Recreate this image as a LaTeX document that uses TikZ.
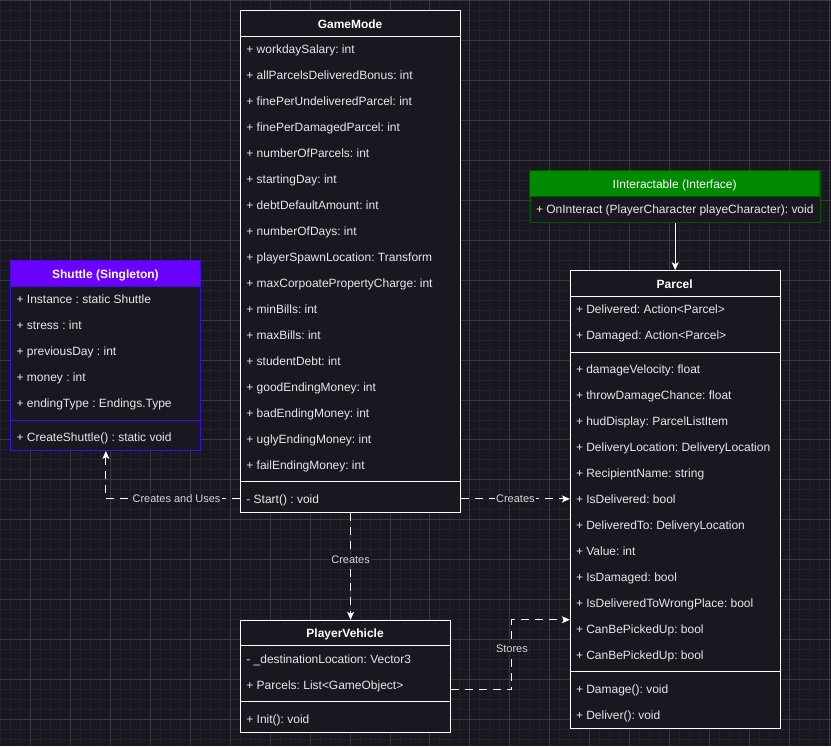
\documentclass[tikz,border=0pt]{standalone}
\usepackage{fontspec}
\setmainfont{Liberation Sans}
\usetikzlibrary{arrows.meta}
\frenchspacing

\definecolor{canvasBg}{RGB}{25,23,32}
\definecolor{gridMinor}{RGB}{35,33,43}
\definecolor{gridMajor}{RGB}{58,57,64}
\definecolor{rowText}{RGB}{232,232,232}
\definecolor{labelText}{RGB}{215,215,215}
\definecolor{shuttleHead}{HTML}{6A00FF}
\definecolor{shuttleEdge}{HTML}{3D10E0}
\definecolor{ifaceHead}{HTML}{008A00}
\definecolor{ifaceEdge}{HTML}{005700}

\begin{document}
\begin{tikzpicture}
[x=1pt,y=-1pt,
  classDecorate/.style={draw=white,fill=canvasBg,line width=1pt,anchor=north west,inner sep=0pt},
  headDecorate/.style={anchor=base,font=\bfseries\fontsize{12}{14}\selectfont,text=white,inner sep=0pt},
  rowDecorate/.style={anchor=base west,inner sep=0pt,text=rowText,font=\fontsize{12}{14}\selectfont},
  lineDecorate/.style={draw=white,line width=1pt,dash pattern=on 8pt off 6pt,-{Stealth[length=8pt,width=7pt,inset=2pt]}},
  solidDecorate/.style={draw=white,line width=1pt,-{Stealth[length=8pt,width=7pt,inset=2pt]}},
  labelDecorate/.style={fill=canvasBg,text=labelText,font=\fontsize{11}{13}\selectfont,inner sep=1pt}]
%% canvas and grid
\fill[canvasBg] (0,0) rectangle (831,746);
\draw[gridMinor,line width=1pt,step=10pt] (0,746) grid (831,0);
\foreach \gx in {30,70,...,830}
{
  \draw[gridMajor,line width=1pt] (\gx,0) -- (\gx,746);
}
\foreach \gy in {0,40,...,720}
{
  \draw[gridMajor,line width=1pt] (0,\gy) -- (831,\gy);
}
\useasboundingbox (0,0) rectangle (831,746);

%% GameMode
\node[classDecorate,minimum width=220pt,minimum height=502pt] (GameMode) at (240,10) {};
\node[headDecorate] (GameModeHead) at (350,28) {GameMode};
\draw[white,line width=1pt] (240,36) -- (460,36) (240,482) -- (460,482);
\foreach \txt [count=\i] in {workdaySalary: int, allParcelsDeliveredBonus: int,
  finePerUndeliveredParcel: int, finePerDamagedParcel: int, numberOfParcels: int,
  startingDay: int, debtDefaultAmount: int, numberOfDays: int,
  playerSpawnLocation: Transform, maxCorpoatePropertyCharge: int, minBills: int,
  maxBills: int, studentDebt: int, goodEndingMoney: int, badEndingMoney: int,
  uglyEndingMoney: int, failEndingMoney: int}
{
  \node[rowDecorate] (GameMode\i) at (246,{27.5+26*\i}) {+ \txt};
}
\node[rowDecorate] (GameModeStart) at (246,503.5) {- Start() : void};

%% Shuttle
\node[classDecorate,draw=shuttleEdge,minimum width=190pt,minimum height=190pt] (Shuttle) at (10,260) {};
\filldraw[fill=shuttleHead,draw=shuttleEdge,line width=1pt] (10,260) rectangle (200,286);
\node[headDecorate] (ShuttleHead) at (105,278) {Shuttle (Singleton)};
\draw[shuttleEdge,line width=1pt] (10,420) -- (200,420);
\foreach \txt [count=\i] in {Instance : static Shuttle, stress : int, previousDay : int,
  money : int, endingType : Endings.Type}
{
  \node[rowDecorate] (Shuttle\i) at (16,{277.5+26*\i}) {+ \txt};
}
\node[rowDecorate] (ShuttleCreate) at (16,441.5) {+ CreateShuttle() : static void};

%% IInteractable
\node[classDecorate,draw=ifaceEdge,minimum width=290pt,minimum height=52pt] (IInteractable) at (530,170) {};
\filldraw[fill=ifaceHead,draw=ifaceEdge,line width=1pt] (530,170) rectangle (820,196);
\node[headDecorate,font=\fontsize{12}{14}\selectfont] (IInteractableHead) at (675,188) {IInteractable (Interface)};
\node[rowDecorate] (IInteractable1) at (536,213.5) {+ OnInteract (PlayerCharacter playeCharacter): void};

%% Parcel
\node[classDecorate,minimum width=210pt,minimum height=458pt] (Parcel) at (570,270) {};
\node[headDecorate] (ParcelHead) at (675,288) {Parcel};
\draw[white,line width=1pt] (570,296) -- (780,296) (570,352) -- (780,352) (570,672) -- (780,672);
\foreach \txt [count=\i] in {Delivered: Action<Parcel>, Damaged: Action<Parcel>}
{
  \node[rowDecorate] (ParcelEvent\i) at (576,{287.5+26*\i}) {+ \txt};
}
\foreach \txt [count=\i] in {damageVelocity: float, throwDamageChance: float,
  hudDisplay: ParcelListItem, DeliveryLocation: DeliveryLocation, RecipientName: string,
  IsDelivered: bool, DeliveredTo: DeliveryLocation, Value: int, IsDamaged: bool,
  IsDeliveredToWrongPlace: bool, CanBePickedUp: bool, CanBePickedUp: bool}
{
  \node[rowDecorate] (Parcel\i) at (576,{347.5+26*\i}) {+ \txt};
}
\foreach \txt [count=\i] in {Damage(): void, Deliver(): void}
{
  \node[rowDecorate] (ParcelMethod\i) at (576,{667.5+26*\i}) {+ \txt};
}

%% PlayerVehicle
\node[classDecorate,minimum width=210pt,minimum height=112pt] (PlayerVehicle) at (240,620) {};
\node[headDecorate] (PlayerVehicleHead) at (345,638) {PlayerVehicle};
\draw[white,line width=1pt] (240,646) -- (450,646) (240,702) -- (450,702);
\node[rowDecorate] (PlayerVehicle1) at (246,663.5) {- \_destinationLocation: Vector3};
\node[rowDecorate] (PlayerVehicle2) at (246,689.5) {+ Parcels: List<GameObject>};
\node[rowDecorate] (PlayerVehicleInit) at (246,723.5) {+ Init(): void};

%% relations
\draw[solidDecorate] (IInteractable.south) -- (Parcel.north);
\draw[lineDecorate] (GameMode.west |- 0,499) -| (Shuttle.south)
  node[labelDecorate,pos=0.237] {Creates and Uses};
\draw[lineDecorate] (GameMode.east |- 0,499) -- (Parcel.west |- 0,499)
  node[labelDecorate,midway] {Creates};
\draw[lineDecorate] (GameMode.south) -- (GameMode.south |- PlayerVehicle.north)
  node[labelDecorate,pos=0.44] {Creates};
\coordinate (storesOut) at (PlayerVehicle.east |- 0,690);
\draw[lineDecorate] (storesOut) -| (512,620) node[labelDecorate,pos=0.79] {Stores}
  -- (Parcel.west |- 0,620);
\end{tikzpicture}
\end{document}
